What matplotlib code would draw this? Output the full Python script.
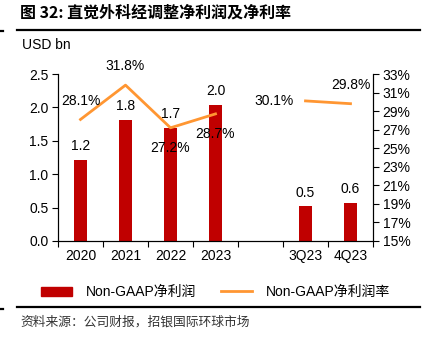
import matplotlib
matplotlib.use("Agg")
import matplotlib.pyplot as plt
from matplotlib.lines import Line2D
from matplotlib.patches import Patch
import numpy as np

plt.rcParams['font.family'] = ['Liberation Sans', 'Noto Sans CJK SC', 'DejaVu Sans']

categories = ["2020", "2021", "2022", "2023", "", "3Q23", "4Q23"]
profit = [1.22, 1.81, 1.69, 2.04, None, 0.52, 0.57]
margin = [28.1, 31.8, 27.2, 28.7, None, 30.1, 29.8]

bar_color = "#C00000"
line_color = "#FF9632"

fig = plt.figure(figsize=(4.31, 3.40), dpi=100)
W, H = 431, 340
ax = fig.add_axes([58 / W, 1 - 241 / H, (373 - 58) / W, (241 - 74) / H])
ax2 = ax.twinx()

x = np.arange(len(categories))
for xi, v in zip(x, profit):
    if v is None:
        continue
    ax.bar(xi, v, width=0.31, color=bar_color, zorder=2)
    ax.text(xi, v + 0.1, f"{v:.1f}", ha="center", va="bottom", fontsize=10)

# margin line, broken between annual and quarterly segments
segments = [[0, 1, 2, 3], [5, 6]]
for seg in segments:
    ax2.plot(seg, [margin[i] for i in seg], color=line_color, lw=2, zorder=3)

offsets = {0: (0.0, 1.2, "center", "bottom"),
           1: (0.0, 1.3, "center", "bottom"),
           2: (0.0, -1.4, "center", "top"),
           3: (0.0, -1.4, "center", "top"),
           5: (-0.69, 0.0, "center", "center"),
           6: (0.0, 1.3, "center", "bottom")}
for i, (dx, dy, ha, va) in offsets.items():
    ax2.text(i + dx, margin[i] + dy, f"{margin[i]:.1f}%", ha=ha, va=va, fontsize=10)

ax.set_xlim(-0.5, len(categories) - 0.5)
ax.set_ylim(0, 2.5)
ax.set_yticks(np.arange(0, 2.51, 0.5))
ax.set_yticklabels([f"{v:.1f}" for v in np.arange(0, 2.51, 0.5)], fontsize=10)
ax2.set_ylim(15, 33)
ax2.set_yticks(np.arange(15, 34, 2))
ax2.set_yticklabels([f"{v}%" for v in range(15, 34, 2)], fontsize=10)

ax.set_xticks(x)
ax.set_xticklabels(categories, fontsize=10)
ax.tick_params(axis="x", length=0, pad=6)
ax.set_xticks(np.arange(-0.5, len(categories), 1), minor=True)
ax.tick_params(axis="x", which="minor", length=4, width=0.8, direction="out")
ax.tick_params(axis="y", length=4, width=0.8, direction="out", pad=3)
ax2.tick_params(axis="y", length=4, width=0.8, direction="out", pad=3)

for a in (ax, ax2):
    a.spines["top"].set_visible(False)
    for s in ("left", "right", "bottom"):
        a.spines[s].set_linewidth(0.8)

# title, rules and notes
fig.text(20 / W, 1 - 13 / H, "图 32: 直觉外科经调整净利润及净利率", fontsize=11.5,
         fontweight="bold", ha="left", va="center",
         family=['Noto Sans CJK SC', 'Liberation Sans'])
fig.add_artist(Line2D([17 / W, 420 / W], [1 - 30 / H, 1 - 30 / H], color="black", lw=1.6))
fig.add_artist(Line2D([0, 3 / W], [1 - 31 / H, 1 - 31 / H], color="black", lw=1.6))
fig.add_artist(Line2D([17 / W, 420 / W], [1 - 307 / H, 1 - 307 / H], color="black", lw=1.6))
fig.add_artist(Line2D([0, 3 / W], [1 - 309 / H, 1 - 309 / H], color="black", lw=1.6))
fig.text(22 / W, 1 - 45 / H, "USD bn", fontsize=10, ha="left", va="center")
fig.text(20 / W, 1 - 322 / H, "资料来源：公司财报，招银国际环球市场", fontsize=9.2,
         color="#333333", ha="left", va="center",
         family=['Noto Sans CJK SC', 'Liberation Sans'])

handles = [Patch(color=bar_color), Line2D([], [], color=line_color, lw=2)]
fig.legend(handles, ["Non-GAAP净利润", "Non-GAAP净利润率"], loc="center",
           bbox_to_anchor=(0.5, 1 - 292 / H), ncol=2, frameon=False, fontsize=10,
           handlelength=2.2, handleheight=0.6, columnspacing=1.8, handletextpad=1.0)

fig.savefig("out.png", dpi=100)
